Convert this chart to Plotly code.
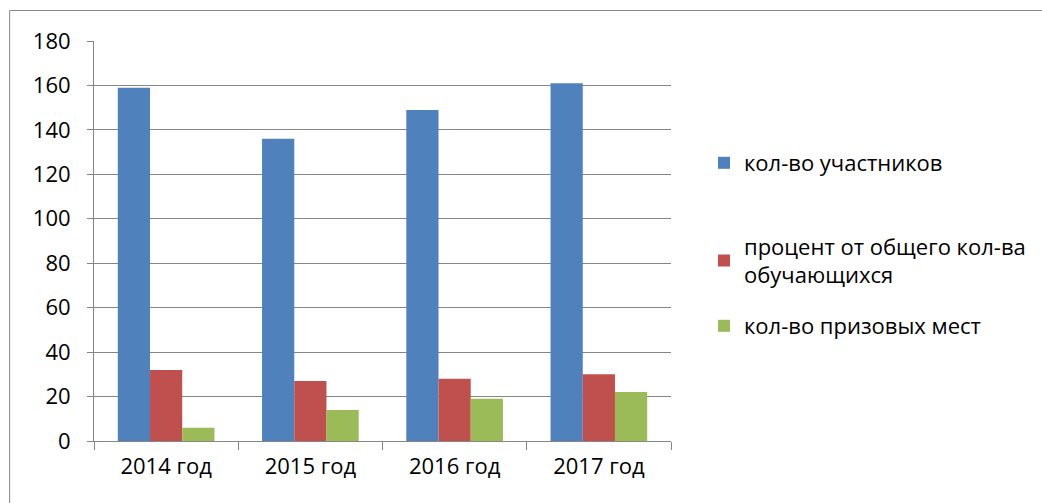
import plotly.graph_objects as go

categories = ["2014 год", "2015 год", "2016 год", "2017 год"]
participants = [159, 136, 149, 161]
percent_of_students = [32, 27, 28, 30]
prize_places = [6, 14, 19, 22]
series_names = ["кол-во участников", "процент от общего кол-ва<br>обучающихся", "кол-во призовых мест"]
colors = ["#4F81BD", "#C0504D", "#9BBB59"]
y_ticks = [0, 20, 40, 60, 80, 100, 120, 140, 160, 180]

W, H = 1042, 503
L, R, T, B = 94, 370, 41, 62
pw, ph = W - L - R, H - T - B

def px_x(x):
    return (x - L) / pw

def px_y(y):
    return (H - B - y) / ph

FONT = "Open Sans"
FS = 22
fig = go.Figure()
for i, (name, vals) in enumerate(zip(series_names, [participants, percent_of_students, prize_places])):
    fig.add_trace(go.Bar(
        x=categories, y=vals, name=name, showlegend=True,
        marker=dict(color=colors[i], line=dict(width=0)),
        legend=["legend", "legend2", "legend3"][i],
    ))

legend_common = dict(font=dict(family=FONT, size=FS, color="#000000"),
                     bgcolor="rgba(0,0,0,0)", itemwidth=30,
                     xanchor="left", yanchor="middle")
fig.update_layout(
    width=W, height=H, showlegend=True,
    margin=dict(l=L, r=R, t=T, b=B, pad=0),
    paper_bgcolor="white", plot_bgcolor="white",
    barmode="group", bargap=0.33, bargroupgap=0,
    font=dict(family=FONT, size=FS, color="#000000"),
    legend=dict(x=px_x(704), y=px_y(163), **legend_common),
    legend2=dict(x=px_x(704), y=px_y(261), **legend_common),
    legend3=dict(x=px_x(704), y=px_y(326), **legend_common),
    xaxis=dict(showline=True, linecolor="#868686", linewidth=1,
               ticks="outside", tickson="boundaries", ticklen=8, tickcolor="#868686",
               showgrid=False, tickfont=dict(family=FONT, size=FS), fixedrange=True,
               ticklabelstandoff=6),
    yaxis=dict(range=[0, 180], tickvals=y_ticks, showline=True, linecolor="#868686",
               linewidth=1, ticks="outside", ticklen=6, tickcolor="#868686",
               showgrid=True, gridcolor="#868686", gridwidth=1,
               zeroline=False, tickfont=dict(family=FONT, size=FS), ticklabelstandoff=12,
               fixedrange=True),
)
fig.add_shape(type="rect", xref="paper", yref="paper",
              x0=px_x(9.5), x1=px_x(1060), y0=px_y(520), y1=px_y(10.5),
              line=dict(color="#868686", width=1), fillcolor="rgba(0,0,0,0)", layer="below")
fig.write_html("out.html", config={"displayModeBar": False},
               post_script="document.body.style.margin='0';")
